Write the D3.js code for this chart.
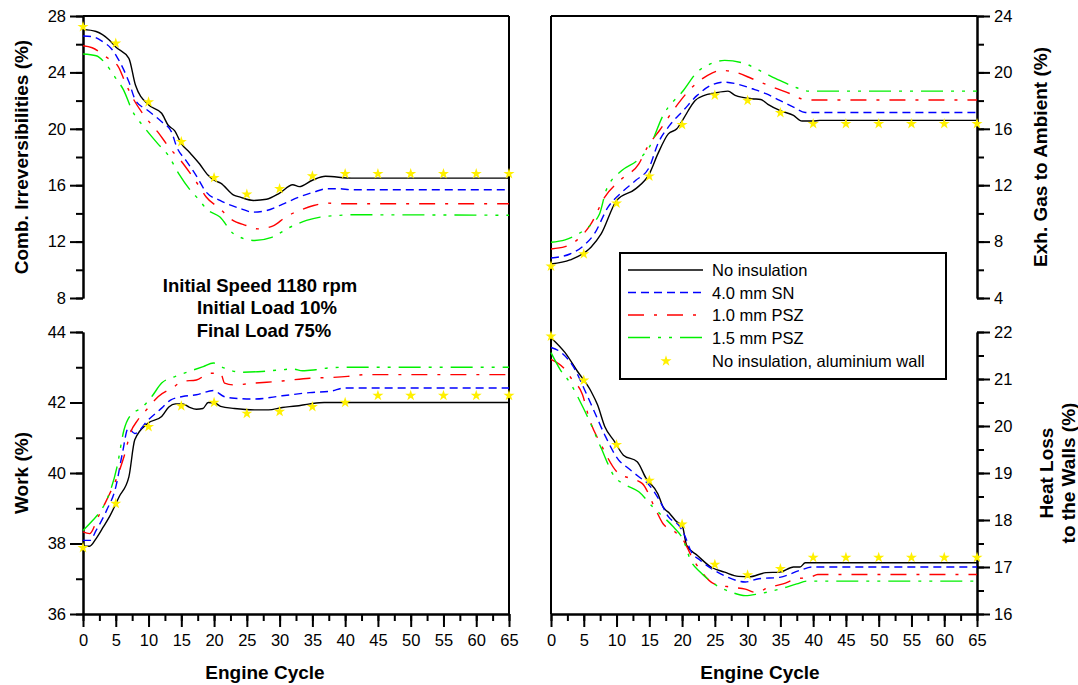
<!DOCTYPE html>
<html><head><meta charset="utf-8">
<script src="https://cdn.jsdelivr.net/npm/d3@7"></script>
<style>
body{margin:0;background:#fff;}
text{font-family:"Liberation Sans",Arial,sans-serif;}
</style></head>
<body><svg id="c" width="1078" height="685"></svg>
<script>
// ---------- DATA ----------
const seriesNames = ["No insulation","4.0 mm SN","1.0 mm PSZ","1.5 mm PSZ","No insulation, aluminium wall"];
const starCycles = [0,5,10,15,20,25,30,35,40,45,50,55,60,65];
const xTicksMajor = [0,5,10,15,20,25,30,35,40,45,50,55,60,65];

// Comb. Irreversibilities (%)
const irrNoIns = [[0,27.05],[2,26.9],[4,26.3],[5,25.8],[7,25.0],[8,23.1],[10,21.7],[12,21.1],[13,20.25],[14,19.85],[15,18.95],[16.2,18.35],[17.8,17.5],[19.1,16.7],[20,16.35],[21,16.15],[23,15.3],[24,15.15],[26,14.92],[28,15.0],[30,15.44],[32,16.03],[33,15.9],[35,16.35],[37,16.63],[41,16.5],[65,16.5]];
const irrSN = [[0,26.58],[1.5,26.53],[3,26.18],[4.3,25.7],[5.3,25.0],[7,23.33],[8,22.03],[9.9,21.3],[12,20.5],[13.5,19.78],[14.3,18.71],[15.7,17.76],[17.25,16.7],[18.8,15.51],[20.9,14.92],[24.1,14.33],[25.9,14.09],[28,14.2],[30.4,14.64],[33,15.16],[35.2,15.51],[37.3,15.75],[39,15.75],[41,15.68],[65,15.68]];
const irrPSZ10 = [[0,25.89],[1.4,25.75],[3.5,25.1],[5.4,24.4],[6.4,23.33],[7.5,22.27],[9.3,20.96],[11.4,19.78],[13.3,18.59],[14.9,17.76],[16.4,16.82],[17.8,15.87],[18.8,15.16],[20.9,14.33],[22.5,13.62],[24.9,13.14],[26.7,12.9],[29.1,13.14],[30.9,13.74],[33,14.2],[35.2,14.56],[37.3,14.73],[40,14.68],[65,14.68]];
const irrPSZ15 = [[0,25.3],[2,25.18],[3.3,24.7],[4.85,23.69],[6.2,22.74],[7.5,21.3],[9.3,20.13],[11.4,18.95],[13,18.12],[14.6,16.82],[16.4,15.63],[17.8,14.92],[18.8,14.33],[20.9,13.74],[23,12.55],[26.2,12.08],[28.8,12.3],[31.5,13.0],[34.1,13.5],[36.2,13.74],[38.8,13.85],[41,13.9],[65,13.87]];
const irrAlu = [27.24,26.06,21.9,19.07,16.53,15.35,15.75,16.65,16.81,16.81,16.81,16.81,16.81,16.81];

// Exh. Gas to Ambient (%)
const exhNoIns = [[0,6.41],[2.9,6.7],[6.1,7.6],[7.65,8.54],[10,10.91],[12.9,11.74],[15,12.8],[16.3,14.22],[17.9,15.64],[19.2,16.0],[20.2,16.71],[22,18.01],[23.4,18.37],[24.9,18.53],[27,18.67],[28.1,18.37],[30.7,18.13],[32,18.08],[33.1,17.73],[34.9,17.3],[37,16.95],[38.3,16.55],[40,16.55],[41,16.6],[65,16.6]];
const exhSN = [[0,6.84],[2.9,7.12],[5,7.72],[6.6,8.54],[8.7,10.44],[10.8,11.5],[12.9,12.33],[15,13.28],[16.3,14.93],[18.1,16.24],[20.2,17.3],[22.3,18.37],[24.4,19.08],[26.5,19.31],[28.6,19.15],[30.7,18.84],[32.8,18.49],[34.9,18.01],[37,17.54],[38.8,17.16],[65,17.16]];
const exhPSZ10 = [[0,7.48],[2.15,7.64],[4,8.12],[6.1,9.25],[8.2,11.15],[10.8,12.45],[13.4,13.51],[14.7,14.7],[16.55,15.88],[19.2,17.66],[21.3,18.84],[23.9,19.79],[26,20.14],[28.1,20.02],[30.7,19.55],[33.8,18.96],[36.5,18.49],[38.8,18.06],[40,18.04],[65,18.04]];
const exhPSZ15 = [[0,7.95],[2.15,8.12],[3.7,8.43],[5.3,8.9],[7.4,9.96],[8.4,11.62],[10.8,13.04],[13.15,13.75],[15,14.7],[17.1,16.95],[20.2,18.72],[22.3,20.02],[24.4,20.62],[26.5,20.85],[29.6,20.62],[32.3,20.02],[34.9,19.43],[37.5,18.91],[39.3,18.67],[65,18.67]];
const exhAlu = [6.25,7.12,10.72,12.64,16.28,18.37,18.01,17.14,16.36,16.36,16.36,16.36,16.36,16.36];

// Work (%)
const workNoIns = [[0,37.92],[1,37.92],[2,38.14],[3.1,38.47],[4.15,38.8],[5.5,39.32],[7,39.89],[7.9,40.94],[9.9,41.41],[12,41.6],[13.1,41.87],[14.1,41.96],[15.2,41.96],[16.2,41.87],[17.3,41.81],[18.3,41.83],[19.1,42.0],[20.2,41.98],[21,41.89],[23.1,41.83],[26.2,41.79],[28.3,41.79],[30.4,41.86],[32.5,41.9],[34.6,41.96],[36.8,42.0],[65,42.0]];
const workSN = [[0,38.09],[1.1,38.09],[2,38.37],[3.6,38.94],[5,39.6],[6,40.55],[6.9,41.27],[7.9,41.12],[9.9,41.5],[12,41.84],[13.35,42.07],[15.2,42.17],[17.3,42.22],[19.9,42.34],[21.5,42.17],[23.1,42.12],[26.2,42.1],[30.4,42.19],[34.6,42.28],[37.8,42.32],[39.9,42.41],[65,42.41]];
const workPSZ10 = [[0,38.33],[1,38.28],[2.3,38.75],[3.6,39.23],[5.2,39.89],[6.25,40.46],[7.3,41.17],[8.35,41.5],[9.9,41.84],[11.5,42.17],[13.6,42.41],[15.2,42.6],[17.3,42.64],[19.4,42.83],[21,42.83],[21.6,42.55],[23.1,42.5],[26.2,42.55],[30.4,42.61],[34.6,42.69],[37.8,42.71],[40.4,42.74],[43.1,42.79],[65,42.79]];
const workPSZ15 = [[0,38.37],[1.5,38.66],[2.6,38.9],[3.6,39.23],[5.2,40.18],[6.25,41.22],[7.3,41.65],[8.9,41.84],[10.5,42.17],[12,42.55],[14.1,42.74],[16.2,42.88],[18.35,43.02],[19.9,43.12],[21.5,42.98],[24.1,42.86],[27.3,42.88],[30.4,42.93],[32,42.95],[33.5,42.9],[35.5,42.93],[37.5,42.98],[40,43.0],[65,43.0]];
const workAlu = [37.88,39.13,41.31,41.9,42.0,41.69,41.74,41.88,42.0,42.2,42.2,42.2,42.2,42.2];

// Heat Loss to the Walls (%)
const heatNoIns = [[0,21.88],[2.15,21.56],[4,21.17],[6.1,20.74],[7.1,20.45],[8.2,19.99],[9.7,19.67],[11.05,19.38],[13.15,19.24],[14.5,18.89],[16.3,18.56],[17.1,18.28],[18.1,18.14],[19.2,17.96],[20,17.89],[20.7,17.46],[22.3,17.25],[24.4,17.0],[26.5,16.89],[28.6,16.8],[30.2,16.79],[32.8,16.88],[34.9,16.89],[37,17.0],[38,17.0],[38.8,17.09],[65,17.09]];
const heatSN = [[0,21.67],[1.6,21.56],[3.5,21.24],[5,20.81],[6.6,20.31],[8.2,19.81],[10.3,19.28],[11.8,19.1],[13.4,18.92],[15,18.74],[16.55,18.42],[17.9,18.07],[19.7,17.85],[20.5,17.64],[21.3,17.35],[22.8,17.14],[24.9,16.93],[27,16.78],[29.65,16.68],[31.7,16.75],[34.9,16.78],[38,16.93],[39.9,17.0],[65,17.0]];
const heatPSZ10 = [[0,21.42],[1.9,21.24],[3.2,20.99],[4.8,20.67],[5.8,20.17],[7.65,19.6],[10.3,18.99],[12,18.89],[13.9,18.78],[16,18.21],[17.1,17.92],[18.9,17.75],[20.2,17.57],[21.5,17.21],[22.8,16.93],[24.9,16.64],[27.6,16.57],[29.65,16.53],[31.2,16.46],[33.3,16.57],[35.4,16.64],[37.5,16.75],[39.6,16.78],[40.7,16.84],[65,16.84]];
const heatPSZ15 = [[0,21.56],[1.4,21.2],[2.9,20.92],[4.8,20.42],[5.8,20.13],[7.65,19.53],[9.7,18.92],[11.5,18.74],[13.4,18.6],[15.5,18.28],[17.1,18.07],[18.7,17.85],[20.2,17.57],[21.3,17.14],[22.8,16.89],[24.9,16.64],[27.6,16.46],[29.65,16.39],[31.7,16.43],[34.9,16.53],[37.5,16.64],[39.1,16.7],[65,16.7]];
const heatAlu = [21.91,20.97,19.6,18.84,17.91,17.05,16.83,16.96,17.2,17.2,17.2,17.2,17.2,17.2];

const annotation = ["Initial Speed 1180 rpm","Initial Load 10%","Final Load 75%"];

// ---------- STYLES ----------
const colors = ["#000000","#0000ff","#ff0000","#00f000"];
const dashes = [null,"8,5","16,10,3,10","22,8,3,8,3,8"];
const starColor = "#fff000";
const FONT = '"Liberation Sans",Arial,sans-serif';

const svg = d3.select("#c");

const colL = [83,509], colR = [551,977];
const rowT = [16,298], rowB = [332,614];

const panels = [
  {name:"irr", x:colL, y:rowT, dom:[8,28], major:d3.range(8,28.01,4), minor:d3.range(8,28.01,2), side:"left",
   series:[irrNoIns,irrSN,irrPSZ10,irrPSZ15], alu:irrAlu},
  {name:"work", x:colL, y:rowB, dom:[36,44], major:d3.range(36,44.01,2), minor:d3.range(36,44.01,1), side:"left",
   series:[workNoIns,workSN,workPSZ10,workPSZ15], alu:workAlu, xAxis:true},
  {name:"exh", x:colR, y:rowT, dom:[4,24], major:d3.range(4,24.01,4), minor:d3.range(4,24.01,2), side:"right",
   series:[exhNoIns,exhSN,exhPSZ10,exhPSZ15], alu:exhAlu},
  {name:"heat", x:colR, y:rowB, dom:[16,22], major:d3.range(16,22.01,1), minor:d3.range(16,22.01,0.5), side:"right",
   series:[heatNoIns,heatSN,heatPSZ10,heatPSZ15], alu:heatAlu, xAxis:true}
];

function frame(col, innerX){
  svg.append("line").attr("x1",col[0]).attr("x2",col[1]).attr("y1",rowT[0]).attr("y2",rowT[0])
    .attr("stroke","#000").attr("stroke-width",2);
  svg.append("line").attr("x1",innerX).attr("x2",innerX).attr("y1",rowT[0]).attr("y2",rowB[1])
    .attr("stroke","#000").attr("stroke-width",2);
}
frame(colL, colL[1]);
frame(colR, colR[0]);

function styleAxis(g){
  g.select(".domain").attr("stroke-width",2);
  g.selectAll(".tick line").attr("stroke-width",2);
  g.selectAll("text").attr("font-size",16.5).attr("font-family",FONT).attr("fill","#000");
}

const star = d3.symbol(d3.symbolStar,38);

panels.forEach(p=>{
  const x = d3.scaleLinear().domain([0,65]).range(p.x);
  const y = d3.scaleLinear().domain(p.dom).range([p.y[1],p.y[0]]);
  const ax = p.side==="left"? d3.axisLeft : d3.axisRight;
  const xpos = p.side==="left"? p.x[0] : p.x[1];
  const gMinor = svg.append("g").attr("transform",`translate(${xpos},0)`)
    .call(ax(y).tickValues(p.minor).tickSize(7).tickSizeOuter(0).tickFormat(""));
  styleAxis(gMinor);
  const gMajor = svg.append("g").attr("transform",`translate(${xpos},0)`)
    .call(ax(y).tickValues(p.major).tickSize(13).tickSizeOuter(0).tickPadding(4).tickFormat(d3.format("d")));
  styleAxis(gMajor);

  if(p.xAxis){
    const gxm = svg.append("g").attr("transform",`translate(0,${p.y[1]})`)
      .call(d3.axisBottom(x).tickValues(d3.range(0,65.01,2.5)).tickSize(7).tickSizeOuter(0).tickFormat(""));
    styleAxis(gxm);
    const gx = svg.append("g").attr("transform",`translate(0,${p.y[1]})`)
      .call(d3.axisBottom(x).tickValues(xTicksMajor).tickSize(13).tickSizeOuter(0).tickPadding(7));
    styleAxis(gx);
  }

  const line = d3.line().x(d=>x(d[0])).y(d=>y(d[1])).curve(d3.curveMonotoneX);
  p.series.forEach((s,i)=>{
    svg.append("path").datum(s).attr("d",line).attr("fill","none")
      .attr("stroke",colors[i]).attr("stroke-width",1.4)
      .attr("stroke-dasharray",dashes[i]);
  });
  svg.append("g").selectAll("path").data(p.alu).join("path")
    .attr("d",star).attr("fill",starColor)
    .attr("transform",(d,i)=>`translate(${x(starCycles[i])},${y(d)})`);
});

function vtitle(lines, cx, cy){
  const t = svg.append("text").attr("transform",`translate(${cx},${cy}) rotate(-90)`)
    .attr("text-anchor","middle").attr("font-weight","bold").attr("font-size",19).attr("font-family",FONT);
  lines.forEach((l,i)=>{
    t.append("tspan").attr("x",0).attr("dy", i===0? (-(lines.length-1)*11 + 7) : 22).text(l);
  });
}
vtitle(["Comb. Irreversibilities (%)"], 21, 157);
vtitle(["Work (%)"], 21, 473);
vtitle(["Exh. Gas to Ambient (%)"], 1040, 157);
vtitle(["Heat Loss","to the Walls (%)"], 1057, 473);

svg.append("text").attr("x",265).attr("y",679).attr("text-anchor","middle")
  .attr("font-weight","bold").attr("font-size",19).attr("font-family",FONT).text("Engine Cycle");
svg.append("text").attr("x",760).attr("y",679).attr("text-anchor","middle")
  .attr("font-weight","bold").attr("font-size",19).attr("font-family",FONT).text("Engine Cycle");

const annX = [260,267,264], annY = [292,314,337];
annotation.forEach((t,i)=>{
  svg.append("text").attr("x",annX[i]).attr("y",annY[i]).attr("text-anchor","middle")
    .attr("font-weight","bold").attr("font-size",18.5).attr("font-family",FONT).text(t);
});

const lg = svg.append("g");
lg.append("rect").attr("x",620).attr("y",253).attr("width",326).attr("height",126)
  .attr("fill","#fff").attr("stroke","#000").attr("stroke-width",2);
const rowsY = [270,292.5,315,337.5,361];
seriesNames.forEach((n,i)=>{
  if(i<4){
    lg.append("line").attr("x1",628).attr("x2",703).attr("y1",rowsY[i]).attr("y2",rowsY[i])
      .attr("stroke",colors[i]).attr("stroke-width",1.6).attr("stroke-dasharray",dashes[i]);
  } else {
    lg.append("path").attr("d",star).attr("fill",starColor)
      .attr("transform",`translate(666,${rowsY[i]})`);
  }
  lg.append("text").attr("x",712).attr("y",rowsY[i]+6).attr("font-size",16.5).attr("font-family",FONT).text(n);
});
</script></body></html>
